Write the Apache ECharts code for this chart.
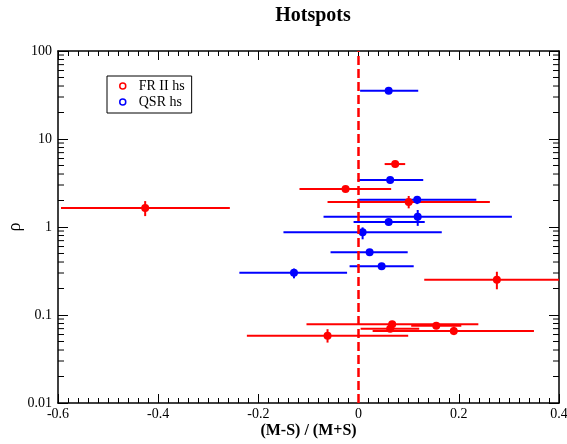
<!DOCTYPE html>
<html>
<head>
<meta charset="utf-8">
<script src="https://cdn.jsdelivr.net/npm/echarts@6/dist/echarts.min.js"></script>
<style>
  html, body { margin: 0; padding: 0; background: #fff; }
  #chart { width: 567px; height: 444px; }
</style>
</head>
<body>
<div id="chart"></div>
<script>
// FR II hotspots
const frX   = [-0.426, -0.026, 0.073, 0.100, 0.276, -0.062, 0.067, 0.155, 0.063, 0.190];
const frY   = [1.64, 2.70, 5.19, 1.92, 0.252, 0.058, 0.0786, 0.0757, 0.070, 0.066];
const frXLo = [-0.594, -0.118, 0.052, -0.062, 0.131, -0.223, -0.104, 0.105, 0.004, 0.028];
const frXHi = [-0.257, 0.065, 0.093, 0.262, 0.460, 0.099, 0.239, 0.205, 0.121, 0.350];
const frYLo = [1.33, 2.52, 5.0, 1.63, 0.196, 0.0486, 0.0706, 0.073, 0.067, 0.0591];
const frYHi = [1.97, 2.87, 5.4, 2.25, 0.31, 0.069, 0.0857, 0.078, 0.073, 0.0739];

// QSR hotspots
const qsrX   = [0.060, 0.063, 0.117, 0.118, 0.060, 0.008, 0.022, 0.046, -0.129];
const qsrY   = [35.3, 3.42, 2.04, 1.31, 1.14, 0.87, 0.516, 0.358, 0.303];
const qsrXLo = [0.003, -0.002, 0.000, -0.070, -0.010, -0.150, -0.056, -0.018, -0.238];
const qsrXHi = [0.119, 0.129, 0.235, 0.306, 0.132, 0.166, 0.098, 0.110, -0.023];
const qsrYLo = [34, 3.3, 1.82, 1.03, 1.10, 0.725, 0.477, 0.345, 0.261];
const qsrYHi = [36.6, 3.55, 2.21, 1.56, 1.18, 0.99, 0.558, 0.372, 0.337];

// log axis minor ticks
const minorMult = [2, 3, 4, 5, 6, 7, 8, 9];
const decades = [0.01, 0.1, 1, 10];

const RED = '#ff0000';
const BLUE = '#0000ff';
const FONT = '"Liberation Serif", "DejaVu Serif", serif';

function pts(xs, ys) {
    return xs.map(function (x, i) { return [x, ys[i]]; });
}
function errRows(xs, ys, xl, xh, yl, yh) {
    return xs.map(function (x, i) { return [x, ys[i], xl[i], xh[i], yl[i], yh[i]]; });
}
function errRender(color) {
    return function (params, api) {
        const x = api.value(0), y = api.value(1);
        const a = api.coord([api.value(2), y]);
        const b = api.coord([api.value(3), y]);
        const c = api.coord([x, api.value(4)]);
        const d = api.coord([x, api.value(5)]);
        const cs = params.coordSys;
        return {
            type: 'group',
            children: [
                { type: 'line', shape: { x1: a[0], y1: a[1], x2: b[0], y2: b[1] },
                  style: { stroke: color, lineWidth: 2 } },
                { type: 'line', shape: { x1: c[0], y1: c[1], x2: d[0], y2: d[1] },
                  style: { stroke: color, lineWidth: 2 } }
            ],
            clipPath: { type: 'rect', shape: { x: cs.x, y: cs.y, width: cs.width, height: cs.height } }
        };
    };
}

let minorVals = [];
decades.forEach(function (d) {
    minorMult.forEach(function (m) { minorVals.push([0, +(d * m).toPrecision(3)]); });
});

const axisText = { color: '#000', fontFamily: FONT, fontSize: 14 };
const frameLine = { onZero: false, lineStyle: { color: '#000', width: 1.5 } };

const chart = echarts.init(document.getElementById('chart'));
chart.setOption({
    backgroundColor: '#fff',
    animation: false,
    title: {
        text: 'Hotspots',
        left: 308,
        top: 1,
        textAlign: 'center',
        textStyle: { fontFamily: FONT, fontSize: 20, fontWeight: 'bold', color: '#000' }
    },
    legend: {
        orient: 'vertical',
        left: 107,
        top: 76,
        padding: [3, 7, 4, 12],
        itemGap: 2,
        itemWidth: 22,
        itemHeight: 6,
        borderColor: '#000',
        borderWidth: 1,
        textStyle: { fontFamily: FONT, fontSize: 14, color: '#000', lineHeight: 14 },
        data: [
            { name: 'FR II hs', icon: 'circle', itemStyle: { color: '#fff', borderColor: RED, borderWidth: 1.5 } },
            { name: 'QSR hs', icon: 'circle', itemStyle: { color: '#fff', borderColor: BLUE, borderWidth: 1.5 } }
        ]
    },
    grid: { left: 58, right: 8, top: 51, bottom: 41, containLabel: false, outerBoundsMode: 'none' },
    xAxis: [{
        type: 'value',
        min: -0.6,
        max: 0.4,
        interval: 0.2,
        name: '(M-S) / (M+S)',
        nameLocation: 'middle',
        nameGap: 20,
        nameMoveOverlap: false,
        nameTextStyle: { fontFamily: FONT, fontSize: 16, fontWeight: 'bold', color: '#000' },
        axisLine: frameLine,
        axisTick: { inside: true, length: 9, lineStyle: { color: '#000' } },
        minorTick: { show: true, splitNumber: 10, length: 5, lineStyle: { color: '#000' } },
        axisLabel: Object.assign({ margin: 4 }, axisText),
        splitLine: { show: false }
    }, {
        type: 'value',
        position: 'top',
        min: -0.6,
        max: 0.4,
        interval: 0.2,
        axisLine: frameLine,
        axisTick: { inside: true, length: 9, lineStyle: { color: '#000' } },
        minorTick: { show: true, splitNumber: 10, length: 5, lineStyle: { color: '#000' } },
        axisLabel: { show: false },
        splitLine: { show: false }
    }],
    yAxis: [{
        type: 'log',
        logBase: 10,
        min: 0.01,
        max: 100,
        name: 'ρ',
        nameLocation: 'middle',
        nameRotate: 90,
        nameGap: 34,
        nameMoveOverlap: false,
        nameTextStyle: { fontFamily: FONT, fontSize: 18, color: '#000' },
        axisLine: frameLine,
        axisTick: { inside: true, length: 10, lineStyle: { color: '#000' } },
        axisLabel: Object.assign({ margin: 6 }, axisText),
        splitLine: { show: false }
    }, {
        type: 'log',
        logBase: 10,
        position: 'right',
        min: 0.01,
        max: 100,
        axisLine: frameLine,
        axisTick: { inside: true, length: 10, lineStyle: { color: '#000' } },
        axisLabel: { show: false },
        splitLine: { show: false }
    }],
    series: [{
        name: 'minorTicks',
        type: 'custom',
        silent: true,
        data: minorVals,
        renderItem: function (params, api) {
            const y = api.coord([0, api.value(1)])[1];
            const cs = params.coordSys;
            return {
                type: 'group',
                children: [
                    { type: 'line', shape: { x1: cs.x, y1: y, x2: cs.x + 6, y2: y },
                      style: { stroke: '#000', lineWidth: 1 } },
                    { type: 'line', shape: { x1: cs.x + cs.width - 6, y1: y, x2: cs.x + cs.width, y2: y },
                      style: { stroke: '#000', lineWidth: 1 } }
                ]
            };
        }
    }, {
        name: 'frErr',
        type: 'custom',
        silent: true,
        data: errRows(frX, frY, frXLo, frXHi, frYLo, frYHi),
        renderItem: errRender(RED),
        markLine: {
            silent: true,
            symbol: 'none',
            label: { show: false },
            lineStyle: { color: RED, width: 2.5, type: [9, 4] },
            data: [{ xAxis: 0 }]
        }
    }, {
        name: 'qsrErr',
        type: 'custom',
        silent: true,
        data: errRows(qsrX, qsrY, qsrXLo, qsrXHi, qsrYLo, qsrYHi),
        renderItem: errRender(BLUE)
    }, {
        name: 'FR II hs',
        type: 'scatter',
        symbol: 'circle',
        symbolSize: 8,
        itemStyle: { color: RED, opacity: 1 },
        data: pts(frX, frY)
    }, {
        name: 'QSR hs',
        type: 'scatter',
        symbol: 'circle',
        symbolSize: 8,
        itemStyle: { color: BLUE, opacity: 1 },
        data: pts(qsrX, qsrY)
    }]
});
</script>
</body>
</html>
